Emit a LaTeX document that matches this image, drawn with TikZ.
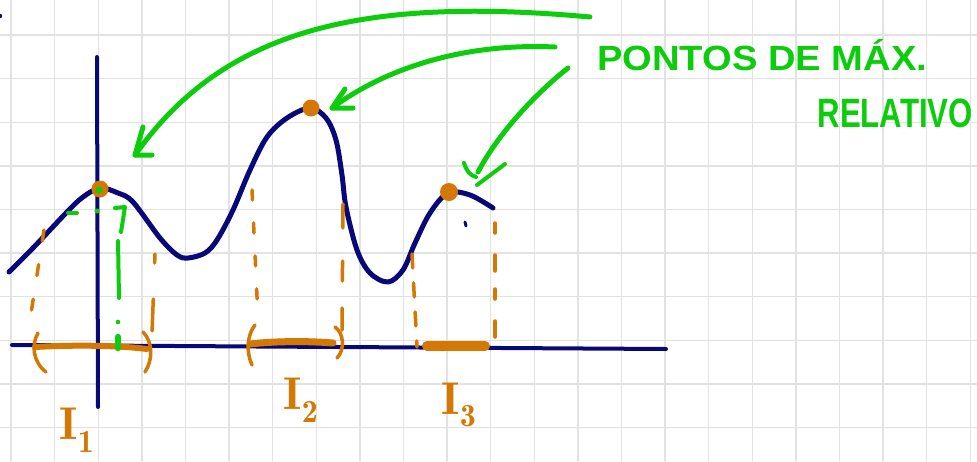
\documentclass[tikz,border=0pt]{standalone}
\usepackage{fontspec}
\newfontfamily\handfont{Liberation Sans}
\definecolor{navy}{RGB}{8,8,120}
\definecolor{ora}{RGB}{212,120,5}
\definecolor{grn}{RGB}{12,205,12}
\definecolor{gridc}{RGB}{226,226,226}
\begin{document}
\begin{tikzpicture}[x=1pt,y=-1pt,line cap=round,line join=round,
  gridline/.style={gridc,line width=1.4pt},
  axisline/.style={navy,line width=4pt},
  fcurve/.style={navy,line width=5pt},
  odash/.style={ora,line width=3.5pt,dash pattern=on 11pt off 24pt},
  obar/.style={ora,line width=6pt},
  oparen/.style={ora,line width=3.5pt},
  maxpt/.style={circle,fill=ora,inner sep=0pt,minimum size=17pt},
  garrow/.style={grn,line width=5pt},
  gdash/.style={grn,line width=4pt},
  glab/.style={grn,font=\handfont\bfseries,inner sep=0pt},
  ilab/.style={ora,inner sep=0pt,font=\fontsize{46}{46}\selectfont}]
\useasboundingbox (0,0) rectangle (977,461);
\fill[white] (0,0) rectangle (977,461);
% grid
\foreach \k in {0,...,22} \draw[gridline] ({11+43.6*\k},0) -- ({11+43.6*\k},461);
\foreach \k in {0,...,9} \draw[gridline] (0,{35+43.6*\k}) -- (977,{35+43.6*\k});
% stray mark
\fill[navy] (0,16) circle (2.2);
% axes
\coordinate (yt) at (97,57);
\coordinate (yb) at (98,407);
\coordinate (xl) at (12,345);
\coordinate (xr) at (666,349);
\draw[axisline] (yt) -- (yb);
\draw[axisline] (xl) -- (xr);
% curve
\draw[fcurve] plot[smooth,tension=0.55] coordinates {
 (9,272) (33,248) (67,212) (83,197) (100,188) (118,193) (133,202) (160,238)
 (177,255) (188,258) (205,253) (217,240) (233,210) (250,170) (267,137) (287,118)
 (310,108) (326,118) (336,140) (342,175) (346,207) (357,250) (370,273)
 (388,282) (403,270) (415,243) (430,213) (448,193) (470,195) (493,208)};
\draw[navy,line width=3pt] (465,222) -- (466,226);
% max points
\node[maxpt] (m1) at (100,189) {};
\node[maxpt] (m2) at (311,108) {};
\node[maxpt,minimum size=18pt] (m3) at (449,192) {};
\fill[grn] (m1.center) ++(-1,1) circle (3.5);
% interval I1
\coordinate (a1) at (44,230); \coordinate (a2) at (30,320);
\coordinate (b1) at (155,254); \coordinate (b2) at (152,333);
\draw[odash] (a1) -- (a2);
\draw[odash,dash pattern=on 9pt off 36pt on 32pt off 40pt] (b1) -- (b2);
\coordinate (p1l) at (35,347); \coordinate (p1r) at (147,349);
\draw[obar] (p1l) .. controls (70,345) and (115,345) .. (p1r);
\draw[oparen] (38,333) .. controls (31,345) and (33,362) .. (46,372);
\draw[oparen] (143,332) .. controls (153,342) and (153,360) .. (145,372);
% green dash-dot
\draw[gdash] (68,213) -- (77,213);
\fill[grn] (97,211) circle (2.5);
\draw[gdash] (115,208) -- (125,207) -- (121,232);
\draw[gdash] (118,241) -- (119,298);
\fill[grn] (118,322) circle (2.3);
\draw[grn,line width=6.5pt] (118,337) -- (118,348);
% interval I2
\coordinate (c1) at (252,190); \coordinate (c2) at (258,318);
\coordinate (d1) at (343,204); \coordinate (d2) at (342,330);
\draw[odash,dash pattern=on 10pt off 23pt] (c1) -- (c2);
\draw[odash,dash pattern=on 24pt off 33pt on 20pt off 27pt] (d1) -- (d2);
\coordinate (p2l) at (250,344); \coordinate (p2r) at (333,343);
\draw[obar,line width=7pt] (p2l) .. controls (275,341) and (310,341) .. (p2r);
\draw[oparen] (255,325) .. controls (247,335) and (246,352) .. (252,365);
\draw[oparen] (335,327) .. controls (344,333) and (345,350) .. (337,358);
% interval I3
\coordinate (e1) at (412,254); \coordinate (e2) at (417,347);
\coordinate (f1) at (495,223); \coordinate (f2) at (495,347);
\draw[odash,dash pattern=on 14pt off 15pt] (e1) -- (e2);
\draw[odash,dash pattern=on 10pt off 22pt on 16pt off 18pt] (f1) -- (f2);
\coordinate (p3l) at (427,346); \coordinate (p3r) at (485,346);
\draw[obar,line width=10pt] (p3l) -- (p3r);
% interval labels
\node[ilab] (i1) at (77,430) {$\mathbf{I}_{\mathbf{1}}$};
\node[ilab] (i2) at (301,400) {$\mathbf{I}_{\mathbf{2}}$};
\node[ilab] (i3) at (459,405) {$\mathbf{I}_{\mathbf{3}}$};
% green text
\node[glab,anchor=base west,xscale=1.09,font=\handfont\bfseries\fontsize{35}{35}\selectfont] (t1) at (597,70) {PONTOS DE MÁX.};
\node[glab,anchor=base east,xscale=0.76,font=\handfont\bfseries\fontsize{41}{41}\selectfont] (t2) at (973,127) {RELATIVO};
% arrows
\coordinate (s1) at (590,17); \coordinate (e1t) at (135,155);
\coordinate (s2) at (555,47); \coordinate (e2t) at (332,108);
\coordinate (s3) at (568,68); \coordinate (e3t) at (478,172);
\draw[garrow] (s1) .. controls (350,-5) and (220,35) .. (e1t);
\draw[garrow] (e1t) ++(8,-28) -- (e1t) -- ++(17,0);
\draw[garrow] (s2) .. controls (470,43) and (390,65) .. (e2t);
\draw[garrow] (e2t) ++(13,-19) -- (e2t) -- ++(21,0);
\draw[garrow] (s3) .. controls (540,90) and (500,130) .. (e3t);
\draw[garrow,line width=4pt] (464,163) .. controls (467,172) and (470,175) .. (476,177);
\draw[garrow,line width=4pt] (477,185) -- (505,164);
\end{tikzpicture}
\end{document}
